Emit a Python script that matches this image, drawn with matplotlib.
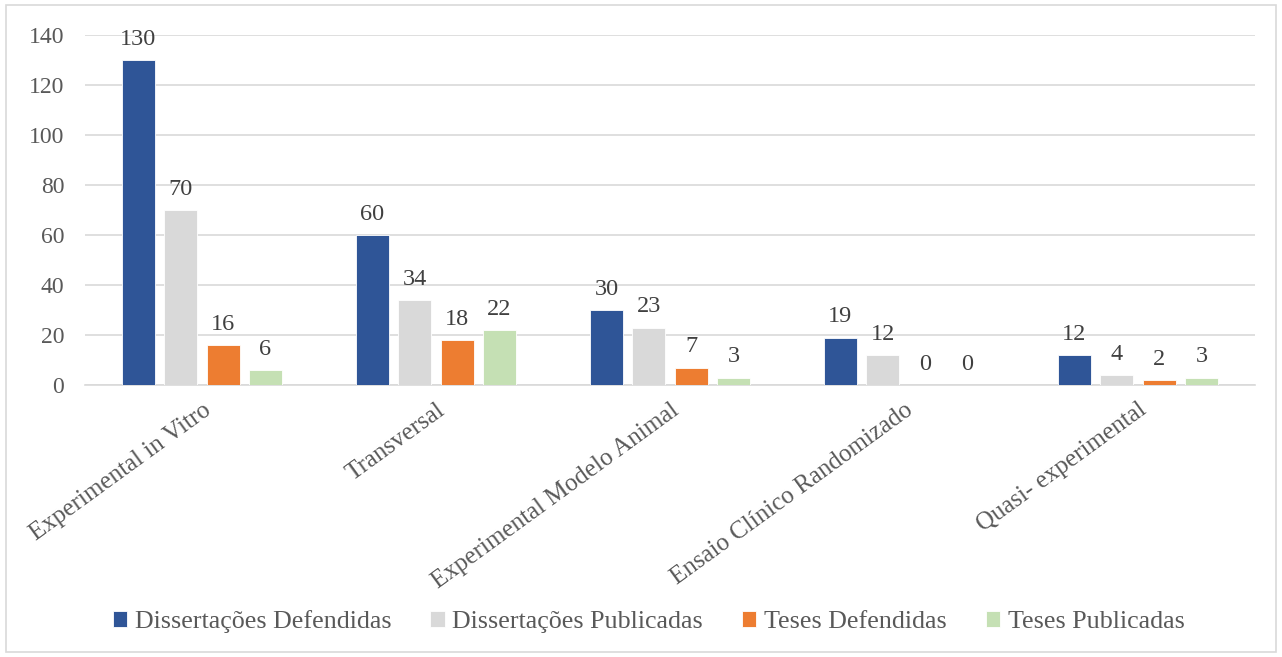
import matplotlib
matplotlib.use("Agg")
import matplotlib.pyplot as plt
import numpy as np
from matplotlib.patches import Rectangle

plt.rcParams['font.family'] = ['Liberation Serif', 'DejaVu Serif']

categories = ["Experimental in Vitro", "Transversal", "Experimental Modelo Animal",
              "Ensaio Clínico Randomizado", "Quasi- experimental"]
series_names = ["Dissertações Defendidas", "Dissertações Publicadas",
                "Teses Defendidas", "Teses Publicadas"]
diss_def = [130, 60, 30, 19, 12]
diss_pub = [70, 34, 23, 12, 4]
teses_def = [16, 18, 7, 0, 2]
teses_pub = [6, 22, 3, 0, 3]
colors = ["#2F5597", "#D9D9D9", "#ED7D31", "#C5E0B4"]
yticks = [0, 20, 40, 60, 80, 100, 120, 140]

W, H = 1282, 657
fig = plt.figure(figsize=(W/100, H/100), dpi=100)
fig.patches.append(Rectangle((6/W, 5/H), 1 - 12/W, 1 - 10/H, transform=fig.transFigure,
                             fill=False, edgecolor="#D9D9D9", linewidth=1.2))
ax = fig.add_axes([85/W, 1 - 385/H, 1170/W, 350/H])

x = np.arange(len(categories))
bw = 0.142
pitch = 0.181
data = [diss_def, diss_pub, teses_def, teses_pub]
for i, (vals, c, name) in enumerate(zip(data, colors, series_names)):
    pos = x + (i - 1.5) * pitch
    ax.bar(pos, vals, width=bw, color=c, edgecolor="white", linewidth=0.6, label=name, zorder=3)
    for p, v in zip(pos, vals):
        ax.text(p, v + 4, str(v), ha="center", va="bottom", fontsize=17.5, color="#404040", zorder=4)

ax.set_xlim(-0.5, len(categories) - 0.5)
ax.set_ylim(0, 140)
ax.set_yticks(yticks)
ax.yaxis.grid(True, color="#D9D9D9", linewidth=1.2, zorder=0)
ax.set_axisbelow(True)
for s in ["top", "right", "left"]:
    ax.spines[s].set_visible(False)
ax.spines["bottom"].set_color("#D9D9D9")
ax.spines["bottom"].set_linewidth(1.2)
ax.tick_params(axis="y", length=0, labelsize=17, labelcolor="#595959", pad=15)
ax.set_xticks(x)
ax.set_xticklabels(categories, rotation=36, ha="right", rotation_mode="anchor")
ax.tick_params(axis="x", length=0, labelsize=18, labelcolor="#595959", pad=10)

fig.legend(loc="center", bbox_to_anchor=(0.506, 1 - 622/H), ncol=4, frameon=False,
           fontsize=18.7, handlelength=0.55, handleheight=0.55, handletextpad=0.3,
           columnspacing=1.5, labelcolor="#595959")

fig.savefig("out.png", dpi=100)
